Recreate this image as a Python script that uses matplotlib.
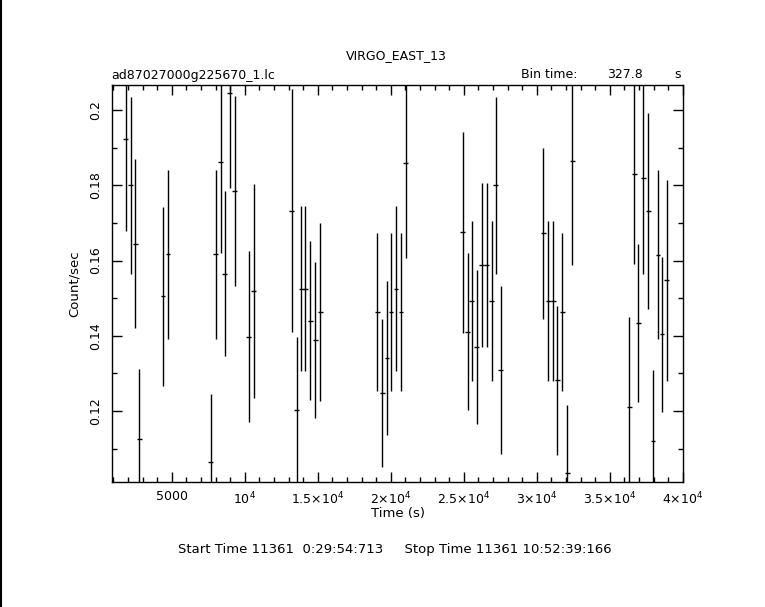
import matplotlib
matplotlib.use("Agg")
import matplotlib.pyplot as plt
from matplotlib.ticker import MultipleLocator, FixedLocator, FixedFormatter
from matplotlib.lines import Line2D

# Data
time_s = [1842, 2183, 2500, 2770, 4407, 4748, 7680, 8021, 8342, 8635, 8976, 9317,
          10272, 10613, 13205, 13546, 13887, 14160, 14500, 14841, 15182,
          19070, 19411, 19752, 20025, 20366, 20707, 21027,
          24935, 25276, 25549, 25890, 26231, 26572, 26913, 27185, 27526,
          30459, 30800, 31141, 31414, 31755, 32096, 32437,
          36352, 36693, 36966, 37307, 37648, 37961, 38302, 38575, 38916]
rate = [0.1923, 0.1800, 0.1645, 0.1125, 0.1505, 0.1617, 0.1064, 0.1617, 0.1861,
        0.1565, 0.2045, 0.1786, 0.1398, 0.1519, 0.1733, 0.1203, 0.1525, 0.1525,
        0.1440, 0.1389, 0.1464,
        0.1464, 0.1248, 0.1341, 0.1464, 0.1525, 0.1464, 0.1859,
        0.1675, 0.1411, 0.1493, 0.1371, 0.1587, 0.1587, 0.1493, 0.1800, 0.1309,
        0.1672, 0.1493, 0.1493, 0.1281, 0.1464, 0.1035, 0.1864,
        0.1211, 0.1829, 0.1433, 0.1819, 0.1732, 0.1120, 0.1616, 0.1404, 0.1547]
rate_err = [0.0244, 0.0236, 0.0225, 0.0187, 0.0238, 0.0225, 0.0180, 0.0225, 0.0241,
            0.0220, 0.0251, 0.0253, 0.0228, 0.0285, 0.0323, 0.0193, 0.0219, 0.0219,
            0.0212, 0.0207, 0.0237,
            0.0210, 0.0197, 0.0205, 0.0210, 0.0219, 0.0210, 0.0252,
            0.0268, 0.0208, 0.0213, 0.0205, 0.0218, 0.0218, 0.0213, 0.0236, 0.0223,
            0.0228, 0.0213, 0.0213, 0.0199, 0.0210, 0.0180, 0.0275,
            0.0240, 0.0238, 0.0210, 0.0255, 0.0260, 0.0190, 0.0225, 0.0206, 0.0267]
bin_time = 327.8

xticks = [5000, 10000, 15000, 20000, 25000, 30000, 35000, 40000]
xticklabels = ["5000", r"$10^4$", r"$1.5{\times}10^4$", r"$2{\times}10^4$",
               r"$2.5{\times}10^4$", r"$3{\times}10^4$", r"$3.5{\times}10^4$",
               r"$4{\times}10^4$"]
yticks = [0.12, 0.14, 0.16, 0.18, 0.2]
yticklabels = ["0.12", "0.14", "0.16", "0.18", "0.2"]

plt.rcParams['font.family'] = ['DejaVu Sans']
plt.rcParams['mathtext.fontset'] = 'dejavusans'

fig = plt.figure(figsize=(7.65, 6.07), dpi=100)
ax = fig.add_axes([112.3 / 765, 1 - 482 / 607, (682.7 - 112.3) / 765, (482 - 85) / 607])

ax.errorbar(time_s, rate, yerr=rate_err, xerr=bin_time / 2, fmt='none',
            ecolor='black', elinewidth=1.0, capsize=0)

ax.set_xlim(928, 40000)
ax.set_ylim(0.1011, 0.2067)

ax.xaxis.set_major_locator(FixedLocator(xticks))
ax.xaxis.set_major_formatter(FixedFormatter(xticklabels))
ax.xaxis.set_minor_locator(MultipleLocator(1000))
ax.yaxis.set_major_locator(FixedLocator(yticks))
ax.yaxis.set_major_formatter(FixedFormatter(yticklabels))
ax.yaxis.set_minor_locator(MultipleLocator(0.01))

ax.tick_params(which='both', direction='in', top=True, right=True, width=1,
               labelsize=9, colors='black')
ax.tick_params(which='major', length=7)
ax.tick_params(which='minor', length=3.5)
ax.tick_params(axis='x', pad=6)
ax.tick_params(axis='y', pad=7)
for lab in ax.get_yticklabels():
    lab.set_rotation(90)
    lab.set_va('center')
for s in ax.spines.values():
    s.set_linewidth(1)

ax.set_xlabel("Time (s)", fontsize=9.5, labelpad=0)
ax.set_ylabel("Count/sec", fontsize=9.5, labelpad=6)

fs = 9.0
fig.text(396 / 765, 1 - 56 / 607, "VIRGO_EAST_13", ha='center', va='center', fontsize=fs)
fig.text(111 / 765, 1 - 75 / 607, "ad87027000g225670_1.lc", ha='left', va='center', fontsize=fs)
fig.text(521 / 765, 1 - 75 / 607, "Bin time:", ha='left', va='center', fontsize=fs)
fig.text(643 / 765, 1 - 75 / 607, "327.8", ha='right', va='center', fontsize=fs)
fig.text(678 / 765, 1 - 75 / 607, "s", ha='center', va='center', fontsize=fs)
fig.text(395 / 765, 1 - 549 / 607,
         "Start Time 11361  0:29:54:713     Stop Time 11361 10:52:39:166",
         ha='center', va='center', fontsize=9.5)

fig.add_artist(Line2D([0.001, 0.001], [0, 1], color='black', linewidth=1.5,
                      transform=fig.transFigure))

fig.savefig("out.png", dpi=100, facecolor='white')
